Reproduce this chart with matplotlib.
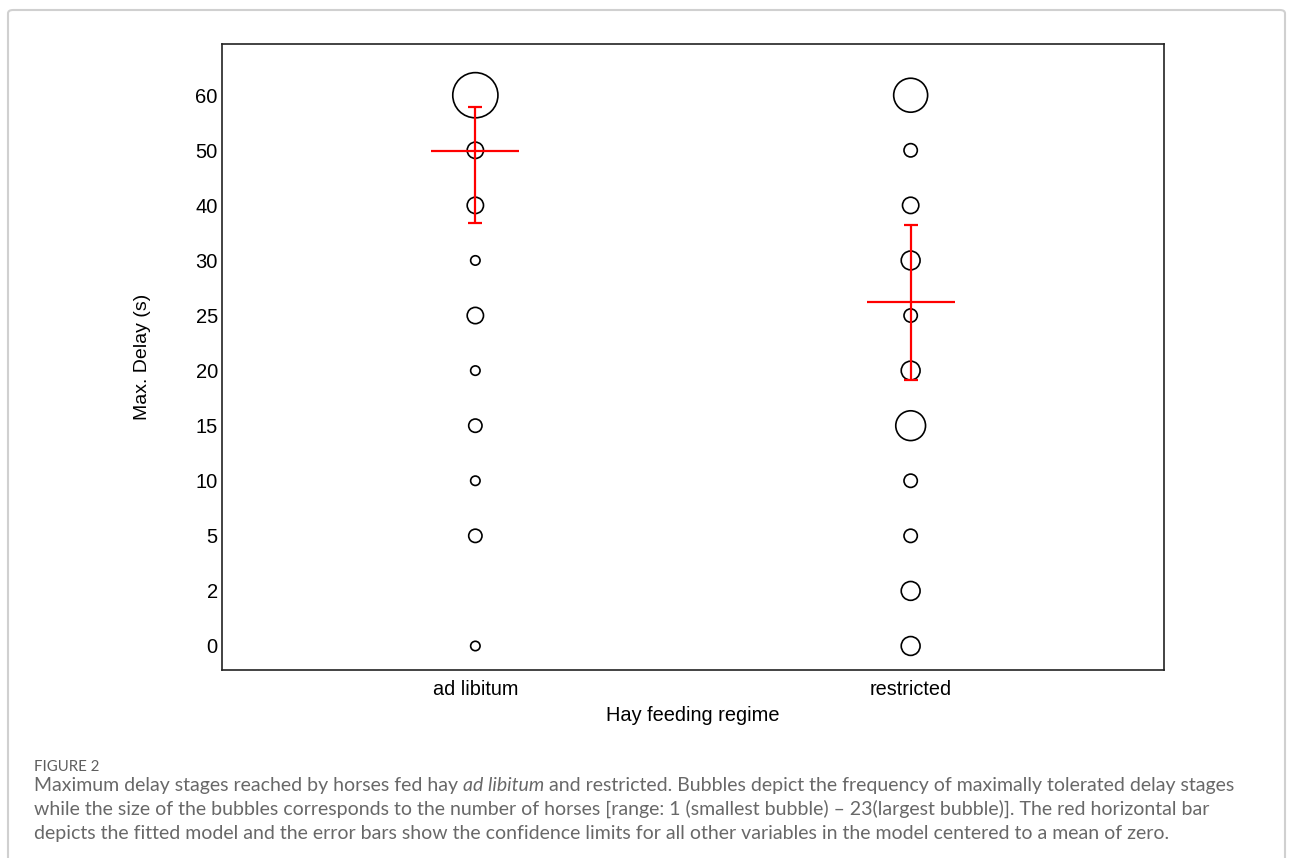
import matplotlib
matplotlib.use("Agg")
import matplotlib.pyplot as plt
from matplotlib.patches import FancyBboxPatch
import numpy as np

# ---- data ----
delay_levels = ["0", "2", "5", "10", "15", "20", "25", "30", "40", "50", "60"]
groups = ["ad libitum", "restricted"]
# number of horses per maximal delay stage (bubble size)
adlib_stages = ["0", "5", "10", "15", "20", "25", "30", "40", "50", "60"]
adlib_counts = [1, 2, 1, 2, 1, 3, 1, 3, 3, 23]
restr_stages = ["0", "2", "5", "10", "15", "20", "25", "30", "40", "50", "60"]
restr_counts = [4, 4, 2, 2, 10, 4, 2, 4, 3, 2, 13]
# fitted model (in stage-index units) and confidence limits
model_mean = [8.98, 6.24]
model_lower = [7.68, 4.83]
model_upper = [9.78, 7.65]

W, H = 1293, 858
fig = plt.figure(figsize=(W / 100, H / 100), dpi=100)
fig.patch.set_facecolor("white")

# outer light border
border = FancyBboxPatch((8 / W, -0.05), (1285 - 8) / W, (H - 10) / H + 0.05,
                        boxstyle="round,pad=0,rounding_size=0.004",
                        transform=fig.transFigure, fill=False,
                        edgecolor="#d0d0d0", linewidth=1.5)
fig.patches.append(border)

ax = fig.add_axes([222 / W, (H - 670) / H, (1164 - 222) / W, (670 - 44) / H])

idx = {lab: i for i, lab in enumerate(delay_levels)}
k = 46.0
for gx, stages, counts in [(1, adlib_stages, adlib_counts), (2, restr_stages, restr_counts)]:
    ys = [idx[s] for s in stages]
    ax.scatter([gx] * len(ys), ys, s=[k * c for c in counts], facecolors="none",
               edgecolors="black", linewidths=1.2, zorder=2)

for gx, m, lo, hi in zip([1, 2], model_mean, model_lower, model_upper):
    ax.errorbar([gx], [m], yerr=[[m - lo], [hi - m]], fmt="none", ecolor="red",
                elinewidth=1.6, capsize=4.7, capthick=1.6, zorder=3)
    ax.hlines(m, gx - 0.101, gx + 0.101, colors="red", linewidth=1.6, zorder=3)

ax.set_xlim(0.418, 2.582)
ax.set_ylim(-0.436, 10.93)
ax.set_xticks([1, 2])
ax.set_xticklabels(groups, fontsize=14.3, family="Liberation Sans")
ax.set_yticks(range(len(delay_levels)))
ax.set_yticklabels(delay_levels, fontsize=14.5, family="Liberation Sans")
ax.tick_params(length=0)
ax.tick_params(axis="y", pad=3)
ax.tick_params(axis="x", pad=7)
for sp in ax.spines.values():
    sp.set_linewidth(1.2)
    sp.set_color("#222222")
ax.set_xlabel("Hay feeding regime", fontsize=14.4, family="Liberation Sans", labelpad=5)
ax.set_ylabel("Max. Delay (s)", fontsize=14, family="Liberation Sans", labelpad=32)

# ---- caption ----
cap_font = "Lato"
cap_color = "#686868"
x0 = 34.0
fig.text(x0 / W, 1 - 771 / H, "FIGURE 2", fontsize=10.8, color="#5e5e5e",
         family=cap_font, va="baseline", ha="left")

fig.canvas.draw()
renderer = fig.canvas.get_renderer()

def seg_line(y_px, parts, size=14.0):
    x = x0
    for txt, style in parts:
        t = fig.text(x / W, 1 - y_px / H, txt, fontsize=size, color=cap_color,
                     family=cap_font, style=style, va="baseline", ha="left")
        bb = t.get_window_extent(renderer=renderer)
        x += bb.width

seg_line(791, [("Maximum delay stages reached by horses fed hay ", "normal"),
               ("ad libitum", "italic"),
               (" and restricted. Bubbles depict the frequency of maximally tolerated delay stages", "normal")])
seg_line(815, [("while the size of the bubbles corresponds to the number of horses [range: 1 (smallest bubble) \u2013 23(largest bubble)]. The red horizontal bar", "normal")])
seg_line(839, [("depicts the fitted model and the error bars show the confidence limits for all other variables in the model centered to a mean of zero.", "normal")])

fig.savefig("out.png", dpi=100, facecolor="white")
